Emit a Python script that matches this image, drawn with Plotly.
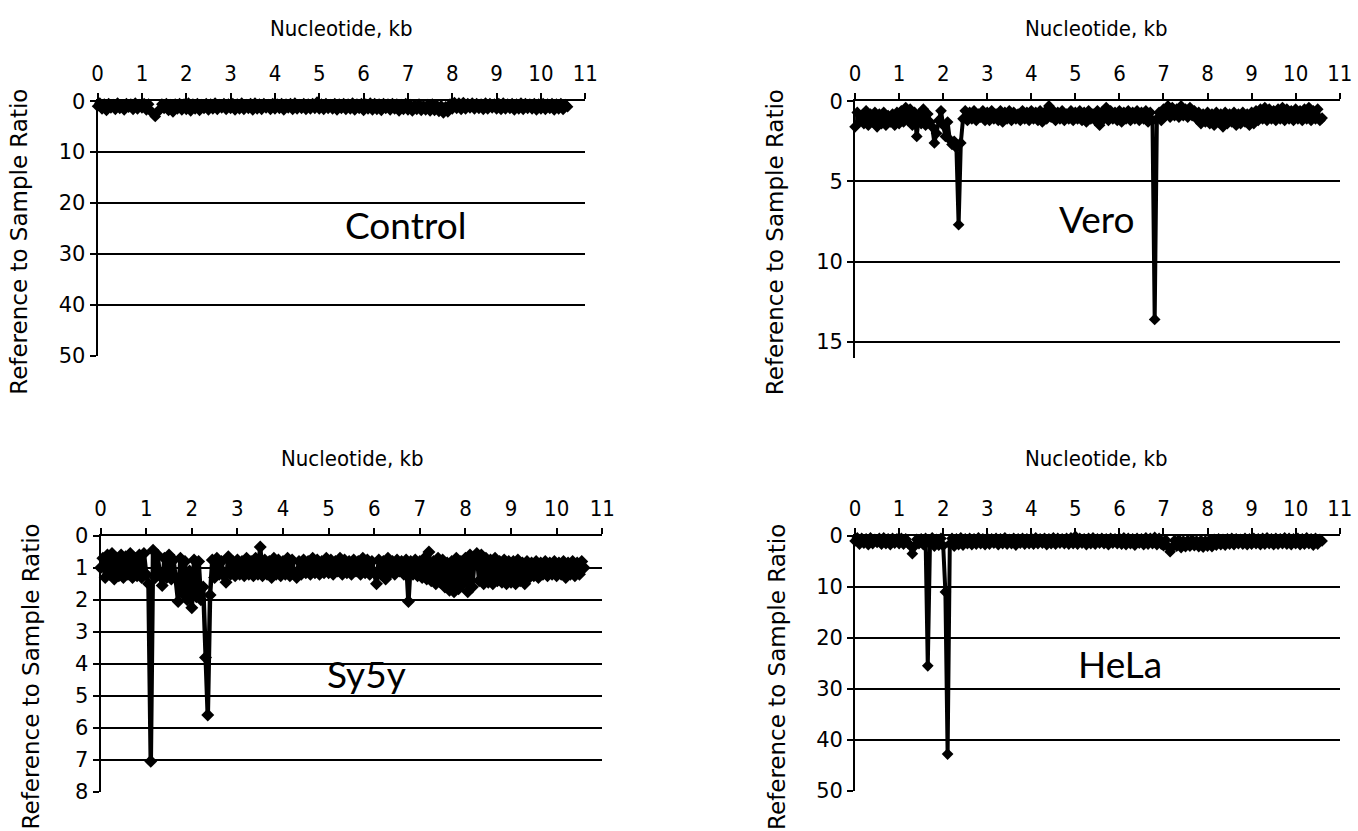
import plotly.graph_objects as go

# ---------------- data ----------------
X_KB = [
    0.00, 0.05, 0.10, 0.15, 0.20, 0.25, 0.30, 0.35, 0.40, 0.45, 0.50, 0.55, 0.60, 0.65, 0.70, 0.75, 0.80, 0.85, 0.90, 0.95,
    1.00, 1.05, 1.10, 1.15, 1.20, 1.25, 1.30, 1.35, 1.40, 1.45, 1.50, 1.55, 1.60, 1.65, 1.70, 1.75, 1.80, 1.85, 1.90, 1.95,
    2.00, 2.05, 2.10, 2.15, 2.20, 2.25, 2.30, 2.35, 2.40, 2.45, 2.50, 2.55, 2.60, 2.65, 2.70, 2.75, 2.80, 2.85, 2.90, 2.95,
    3.00, 3.05, 3.10, 3.15, 3.20, 3.25, 3.30, 3.35, 3.40, 3.45, 3.50, 3.55, 3.60, 3.65, 3.70, 3.75, 3.80, 3.85, 3.90, 3.95,
    4.00, 4.05, 4.10, 4.15, 4.20, 4.25, 4.30, 4.35, 4.40, 4.45, 4.50, 4.55, 4.60, 4.65, 4.70, 4.75, 4.80, 4.85, 4.90, 4.95,
    5.00, 5.05, 5.10, 5.15, 5.20, 5.25, 5.30, 5.35, 5.40, 5.45, 5.50, 5.55, 5.60, 5.65, 5.70, 5.75, 5.80, 5.85, 5.90, 5.95,
    6.00, 6.05, 6.10, 6.15, 6.20, 6.25, 6.30, 6.35, 6.40, 6.45, 6.50, 6.55, 6.60, 6.65, 6.70, 6.75, 6.80, 6.85, 6.90, 6.95,
    7.00, 7.05, 7.10, 7.15, 7.20, 7.25, 7.30, 7.35, 7.40, 7.45, 7.50, 7.55, 7.60, 7.65, 7.70, 7.75, 7.80, 7.85, 7.90, 7.95,
    8.00, 8.05, 8.10, 8.15, 8.20, 8.25, 8.30, 8.35, 8.40, 8.45, 8.50, 8.55, 8.60, 8.65, 8.70, 8.75, 8.80, 8.85, 8.90, 8.95,
    9.00, 9.05, 9.10, 9.15, 9.20, 9.25, 9.30, 9.35, 9.40, 9.45, 9.50, 9.55, 9.60, 9.65, 9.70, 9.75, 9.80, 9.85, 9.90, 9.95,
    10.00, 10.05, 10.10, 10.15, 10.20, 10.25, 10.30, 10.35, 10.40, 10.45, 10.50, 10.55, 10.60,
]

CONTROL = [
    1.0, 0.4, 1.5, 0.6, 1.8, 0.5, 1.3, 0.7, 1.6, 0.4, 1.4, 0.8, 1.7, 0.5, 1.2, 0.6, 1.6, 0.4, 1.5, 0.7,
    1.3, 0.5, 1.7, 0.6, 1.9, 2.4, 3.0, 2.2, 1.6, 0.6, 1.4, 0.5, 1.8, 0.7, 2.1, 0.6, 1.5, 0.5, 1.7, 0.6,
    1.6, 0.4, 1.9, 0.6, 1.5, 0.5, 1.8, 0.7, 1.4, 0.5, 1.7, 0.6, 1.5, 0.4, 1.6, 0.7, 1.3, 0.5, 1.6, 0.6,
    1.4, 0.5, 1.7, 0.6, 1.5, 0.4, 1.6, 0.7, 1.4, 0.5, 1.7, 0.4, 1.5, 0.6, 1.6, 0.5, 1.3, 0.7, 1.6, 0.5,
    1.5, 0.6, 1.4, 0.5, 1.7, 0.6, 1.3, 0.5, 1.6, 0.4, 1.5, 0.7, 1.4, 0.5, 1.6, 0.6, 1.5, 0.5, 1.4, 0.2,
    1.5, 0.6, 1.6, 0.5, 1.4, 0.7, 1.5, 0.5, 1.7, 0.6, 1.4, 0.5, 1.6, 0.6, 1.5, 0.4, 1.7, 0.6, 1.4, 0.5,
    1.8, 0.6, 1.5, 0.4, 1.7, 0.5, 1.6, 0.6, 1.8, 0.5, 1.4, 0.6, 1.7, 0.5, 1.5, 0.6, 1.9, 0.7, 1.6, 0.5,
    1.7, 0.7, 1.9, 0.8, 1.6, 0.6, 1.8, 0.9, 1.7, 0.7, 1.9, 0.6, 1.8, 0.8, 2.0, 0.9, 2.3, 1.1, 2.1, 0.6,
    1.5, 0.3, 1.4, 0.4, 1.6, 0.3, 1.5, 0.5, 1.3, 0.4, 1.5, 0.5, 1.4, 0.6, 1.6, 0.4, 1.5, 0.5, 1.3, 0.6,
    1.5, 0.5, 1.6, 0.4, 1.5, 0.6, 1.4, 0.5, 1.7, 0.6, 1.5, 0.4, 1.6, 0.5, 1.4, 0.6, 1.5, 0.5, 1.7, 0.6,
    1.5, 0.5, 1.6, 0.6, 1.4, 0.5, 1.7, 0.6, 1.5, 0.5, 1.6, 0.7, 1.1,
]

VERO = [
    1.6, 0.7, 1.3, 0.9, 1.4, 0.6, 1.5, 0.8, 1.3, 0.7, 1.6, 0.8, 1.4, 0.7, 1.5, 0.9, 1.3, 0.8, 1.5, 0.7,
    1.4, 0.6, 1.3, 0.4, 1.2, 0.5, 1.5, 0.7, 2.2, 0.8, 1.4, 0.5, 1.5, 0.8, 1.3, 1.6, 2.6, 2.0, 1.2, 0.6,
    1.5, 2.2, 1.3, 2.4, 2.7, 2.5, 2.9, 7.7, 2.6, 1.1, 0.6, 1.2, 0.7, 1.1, 0.6, 1.2, 0.8, 1.0, 0.6, 1.2,
    0.7, 1.2, 0.6, 1.1, 0.8, 1.2, 0.6, 1.3, 0.7, 1.1, 0.6, 1.2, 0.7, 1.1, 0.8, 1.2, 0.6, 1.1, 0.7, 1.2,
    0.6, 1.1, 0.7, 1.2, 0.6, 1.3, 0.7, 1.1, 0.3, 1.0, 0.6, 1.2, 0.7, 1.1, 0.6, 1.2, 0.8, 1.1, 0.6, 1.2,
    0.7, 1.1, 0.6, 1.2, 0.7, 1.3, 0.6, 1.1, 0.8, 1.2, 0.6, 1.5, 0.7, 1.1, 0.4, 1.2, 0.6, 1.1, 0.7, 1.2,
    0.6, 1.3, 0.7, 1.1, 0.6, 1.2, 0.7, 1.1, 0.6, 1.2, 0.7, 1.1, 0.6, 1.3, 0.7, 1.2, 13.6, 1.1, 0.7, 1.2,
    0.5, 0.9, 0.3, 1.0, 0.4, 0.9, 0.5, 1.0, 0.3, 0.9, 0.5, 1.0, 0.4, 0.9, 0.6, 1.1, 0.7, 1.4, 0.8, 1.3,
    0.7, 1.4, 0.8, 1.5, 0.7, 1.3, 0.8, 1.6, 0.7, 1.4, 0.8, 1.3, 0.7, 1.5, 0.8, 1.4, 0.7, 1.3, 0.8, 1.5,
    0.7, 1.4, 0.6, 1.2, 0.5, 1.1, 0.4, 1.2, 0.5, 1.1, 0.6, 1.2, 0.5, 1.1, 0.4, 1.2, 0.5, 1.1, 0.6, 1.2,
    0.5, 1.1, 0.6, 1.2, 0.5, 1.1, 0.4, 1.2, 0.6, 1.1, 0.5, 1.2, 1.05,
]

SY5Y = [
    1.0, 0.7, 1.3, 0.6, 1.2, 0.55, 1.35, 0.7, 1.25, 0.6, 1.3, 0.65, 1.2, 0.55, 1.3, 0.7, 1.25, 0.6, 1.3, 0.55,
    1.2, 1.5, 7.05, 0.45, 1.3, 0.6, 1.25, 1.55, 0.7, 1.3, 0.6, 1.35, 0.75, 1.3, 2.05, 0.7, 1.8, 0.8, 2.0, 1.1,
    2.25, 0.75, 1.9, 0.8, 2.0, 1.6, 3.8, 5.6, 1.85, 0.75, 1.3, 0.7, 1.2, 0.8, 1.25, 1.45, 0.65, 1.2, 0.8, 1.25,
    0.75, 1.2, 0.8, 1.25, 0.7, 1.2, 0.8, 1.25, 0.7, 1.2, 0.35, 1.25, 0.75, 1.2, 0.8, 1.3, 0.7, 1.2, 0.75, 1.25,
    0.8, 1.2, 0.7, 1.25, 0.75, 1.2, 1.3, 0.8, 1.2, 0.75, 1.15, 0.8, 1.2, 0.7, 1.15, 0.75, 1.2, 0.8, 1.15, 0.7,
    1.15, 0.75, 1.2, 0.8, 1.1, 0.7, 1.2, 0.75, 1.15, 0.8, 1.2, 0.75, 1.1, 0.8, 1.2, 0.7, 1.15, 0.75, 1.2, 0.8,
    1.15, 1.5, 0.75, 1.2, 0.8, 1.35, 0.7, 1.15, 0.8, 1.2, 0.75, 1.1, 0.8, 1.2, 0.75, 2.05, 0.8, 1.2, 0.75, 1.25,
    0.8, 1.3, 0.7, 1.35, 0.5, 1.4, 0.8, 1.5, 0.7, 1.45, 0.75, 1.6, 0.85, 1.7, 0.8, 1.75, 0.7, 1.65, 0.8, 1.5,
    0.7, 1.75, 0.6, 1.6, 0.75, 0.55, 1.4, 0.6, 1.5, 0.7, 1.45, 0.75, 1.5, 0.7, 1.4, 0.8, 1.45, 0.75, 1.5, 0.8,
    1.45, 0.8, 1.5, 0.75, 1.4, 0.85, 1.5, 0.8, 1.3, 0.85, 1.25, 0.8, 1.3, 0.85, 1.2, 0.8, 1.25, 0.85, 1.2, 0.8,
    1.25, 0.85, 1.2, 0.8, 1.3, 0.85, 1.2, 0.8, 1.25, 0.85, 1.2, 0.8, 1.0,
]

HELA = [
    1.0, 0.4, 1.6, 0.5, 1.4, 0.6, 1.7, 0.4, 1.5, 0.7, 1.3, 0.5, 1.6, 0.4, 1.5, 0.6, 1.7, 0.5, 1.4, 0.6,
    1.5, 0.5, 1.6, 0.6, 1.4, 1.9, 3.5, 2.0, 0.7, 1.5, 0.6, 1.7, 0.5, 25.5, 1.6, 0.4, 2.0, 0.7, 1.8, 0.5,
    1.9, 11.0, 42.8, 1.6, 0.5, 2.0, 0.6, 1.7, 0.4, 1.8, 0.6, 1.5, 0.5, 1.7, 0.6, 1.6, 0.4, 1.5, 0.6, 1.7,
    0.5, 1.6, 0.6, 1.4, 0.5, 1.7, 0.6, 1.5, 0.4, 1.6, 0.7, 1.5, 0.5, 1.8, 0.6, 1.4, 0.5, 1.6, 0.6, 1.5,
    0.5, 1.6, 0.4, 1.5, 0.6, 1.4, 0.5, 1.7, 0.6, 1.5, 0.4, 1.6, 0.5, 1.4, 0.6, 1.5, 0.5, 1.6, 0.4, 1.5,
    0.1, 1.6, 0.5, 1.4, 0.6, 1.7, 0.5, 1.5, 0.4, 1.6, 0.6, 1.4, 0.5, 1.5, 0.6, 1.7, 0.5, 1.4, 0.6, 1.5,
    0.5, 1.6, 0.4, 1.7, 0.5, 1.5, 0.6, 1.8, 0.5, 1.4, 0.6, 1.7, 0.4, 1.6, 0.5, 1.5, 0.3, 1.7, 0.5, 1.6,
    1.9, 0.8, 2.1, 3.1, 2.2, 0.9, 2.0, 0.8, 2.3, 1.0, 2.1, 0.9, 2.0, 0.8, 1.9, 1.0, 2.1, 0.9, 2.2, 1.0,
    2.0, 0.8, 2.1, 0.7, 1.8, 0.6, 1.7, 0.7, 1.8, 0.6, 1.6, 0.5, 1.7, 0.6, 1.5, 0.7, 1.6, 0.5, 1.7, 0.6,
    1.6, 0.5, 1.5, 0.6, 1.7, 0.5, 1.6, 0.4, 1.5, 0.6, 1.7, 0.5, 1.6, 0.6, 1.5, 0.4, 1.6, 0.5, 1.7, 0.6,
    1.5, 0.5, 1.7, 0.6, 1.6, 0.4, 1.5, 0.6, 1.8, 0.5, 1.6, 0.7, 1.0,
]

X_TICKS = [0, 1, 2, 3, 4, 5, 6, 7, 8, 9, 10, 11]
Y_TICKS_50 = [0, 10, 20, 30, 40, 50]
Y_TICKS_VERO = [0, 5, 10, 15]
Y_TICKS_SY5Y = [0, 1, 2, 3, 4, 5, 6, 7, 8]
PANEL_NAMES = ["Control", "Vero", "Sy5y", "HeLa"]
X_TITLE = "Nucleotide, kb"
Y_TITLE = "Reference to Sample Ratio"

# ---------------- layout / styling ----------------
W, H = 1358, 831


# layout positions below are the positions as measured on the reference; these
# helpers convert a measured position into a fraction of the page
def fx(p):
    return ((p - 5.33) / 0.9867) / W


def fy(p):
    return 1 - ((p - 10.8) / 0.9717) / H


TICK_FONT_X = dict(family="Liberation Sans Narrow, DejaVu Sans Condensed, Liberation Sans, sans-serif", size=22, color="black")
TICK_FONT_Y = dict(family="DejaVu Sans, Verdana, sans-serif", size=21, color="black")
XTITLE_FONT = dict(family="Liberation Sans Narrow, DejaVu Sans Condensed, Liberation Sans, sans-serif", size=22, color="black")
YTITLE_FONT = dict(family="DejaVu Sans, Verdana, sans-serif", size=23, color="black")
LABEL_FONT = dict(family="Lato, Open Sans, sans-serif", size=37, color="black")

panels = [
    dict(y=CONTROL, ticks=Y_TICKS_50, yrange=[50, 0], xd=(97, 585), yd=(100, 355),
         xt=(341, 27), yt=(18, 241), lab=(405, 223), msize=9, lw=4),
    dict(y=VERO, ticks=Y_TICKS_VERO, yrange=[16, 0], xd=(855, 1340), yd=(100, 357),
         xt=(1097, 27), yt=(775, 241), lab=(1097, 217), msize=9, lw=4),
    dict(y=SY5Y, ticks=Y_TICKS_SY5Y, yrange=[8, 0], xd=(100, 602), yd=(535, 791),
         xt=(352, 458), yt=(30, 676), lab=(366, 673), msize=10, lw=4.5),
    dict(y=HELA, ticks=Y_TICKS_50, yrange=[50, 0], xd=(855, 1340), yd=(535, 790),
         xt=(1097, 458), yt=(777, 676), lab=(1120, 663), msize=9, lw=4),
]

fig = go.Figure()
annotations = []
layout_axes = {}

for i, (p, name) in enumerate(zip(panels, PANEL_NAMES), start=1):
    xa = "x" if i == 1 else f"x{i}"
    ya = "y" if i == 1 else f"y{i}"
    fig.add_trace(go.Scatter(
        x=X_KB, y=p["y"], xaxis=xa, yaxis=ya, mode="lines+markers",
        line=dict(color="black", width=p["lw"]),
        marker=dict(symbol="diamond", size=p["msize"], color="black"),
        cliponaxis=False, showlegend=False, hoverinfo="x+y", name=name,
    ))
    xkey = "xaxis" if i == 1 else f"xaxis{i}"
    ykey = "yaxis" if i == 1 else f"yaxis{i}"
    layout_axes[xkey] = dict(
        domain=[fx(p["xd"][0]), fx(p["xd"][1])], anchor=ya, side="top",
        range=[0, 11], tickmode="array", tickvals=X_TICKS,
        ticks="outside", ticklen=6, tickwidth=2, tickcolor="black",
        showline=True, linewidth=2, linecolor="black",
        showgrid=False, zeroline=False, tickfont=TICK_FONT_X,
        ticklabelstandoff=3,
    )
    layout_axes[ykey] = dict(
        domain=[fy(p["yd"][1]), fy(p["yd"][0])], anchor=xa,
        range=p["yrange"], tickmode="array", tickvals=p["ticks"],
        ticks="outside", ticklen=6, tickwidth=2, tickcolor="black",
        showline=True, linewidth=2, linecolor="black",
        showgrid=True, gridcolor="black", gridwidth=2, zeroline=False,
        tickfont=TICK_FONT_Y,
    )
    annotations.append(dict(text=X_TITLE, x=fx(p["xt"][0]), y=fy(p["xt"][1]), xref="paper", yref="paper",
                            showarrow=False, font=XTITLE_FONT, xanchor="center", yanchor="middle"))
    annotations.append(dict(text=Y_TITLE, x=fx(p["yt"][0]), y=fy(p["yt"][1]), xref="paper", yref="paper",
                            showarrow=False, font=YTITLE_FONT, textangle=-90, xanchor="center", yanchor="middle"))
    annotations.append(dict(text=name, x=fx(p["lab"][0]), y=fy(p["lab"][1]), xref="paper", yref="paper",
                            showarrow=False, font=LABEL_FONT, xanchor="center", yanchor="middle"))

fig.update_layout(
    width=W, height=H, margin=dict(l=0, r=0, t=0, b=0),
    paper_bgcolor="white", plot_bgcolor="white",
    annotations=annotations, **layout_axes,
)

fig.write_html("out.html", config={"displayModeBar": False},
               post_script="document.body.style.margin='0';")
